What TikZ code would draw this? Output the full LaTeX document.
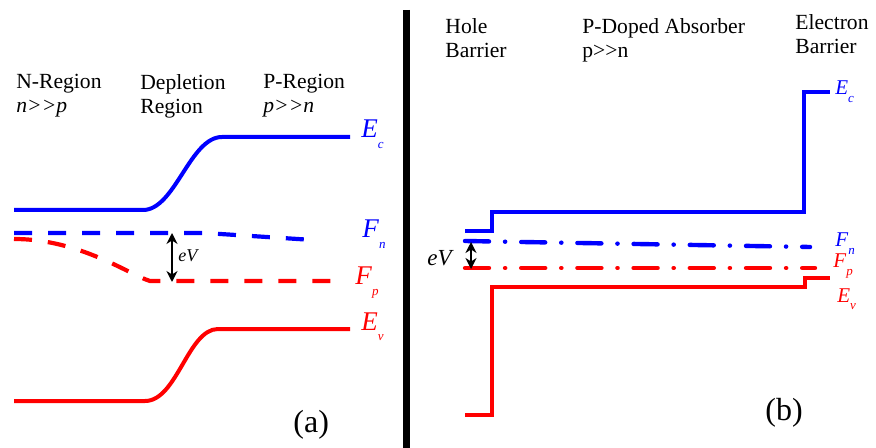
\documentclass[tikz,border=0pt]{standalone}
\usepackage{fontspec}
\setmainfont{Liberation Serif}
\usepackage{tikz}
\usepackage{graphicx}
\tikzset{>=stealth}
\usetikzlibrary{calc}
\usetikzlibrary{arrows.meta}
\newcommand{\band}[2]{\textit{#1}\raisebox{-0.38em}{\fontsize{6.5}{7}\selectfont\textit{#2}}}
\tikzset{
    lbl/.style={anchor=north west, inner sep=0, align=left, font=\rmfamily\fontsize{10.8}{12}\selectfont},
    lvlbig/.style={anchor=base west, inner sep=0, font=\rmfamily\fontsize{13.5}{15}\selectfont},
    lvlsmall/.style={anchor=base west, inner sep=0, font=\rmfamily\fontsize{10.5}{12}\selectfont},
    bandline/.style={line width=2pt},
    fermi/.style={line width=2.1pt, dash pattern=on 9pt off 8pt},
    quasi/.style={line width=2.2pt, line cap=round, dash pattern=on 12pt off 8pt on 0.1pt off 8pt},
    gap/.style={line width=1.4pt, {Stealth[length=5.5pt,width=5.5pt]}-{Stealth[length=5.5pt,width=5.5pt]}},
}

\begin{document}
\begin{tikzpicture}[x=0.5pt, y=-0.5pt]
    \useasboundingbox (0,0) rectangle (876,448);
    \draw [line width=3.5pt] (406,10) -- (406,448);
    % (a) p-n junction
    \begin{scope}
        \draw [bandline, blue] (14,210) -- (143,210) .. controls (175,210) and (190,137) .. (222,137) -- (350,137);
        \draw [bandline, red] (14,401) -- (145,401) .. controls (177,401) and (188,329) .. (218,329) -- (350,329);
        \draw [fermi, blue] (14,233) -- (205,233) -- (313,240);
        \draw [fermi, red] (14,239) .. controls (80,239) and (130,275) .. (150,281) -- (333,281);
        \coordinate (fnA) at (172,233);
        \coordinate (fpA) at (172,282);
        \draw [gap] (fnA) -- (fpA);
        \node [anchor=base west, inner sep=0, font=\rmfamily\fontsize{9}{10}\selectfont\itshape] (evA) at (178,262) {eV};
        \node [lbl] (nreg) at (16,74) {N-Region\\\textit{n\textgreater{}\textgreater{}p}};
        \node [lbl] (depl) at (140,74) {Depletion\\Region};
        \node [lbl] (preg) at (263,74) {P-Region\\\textit{p\textgreater{}\textgreater{}n}};
        \node [lvlbig, blue] (ecA) at (361,138) {\band{E}{c}};
        \node [lvlbig, blue] (fnlA) at (362,238) {\band{F}{n}};
        \node [lvlbig, red] (fplA) at (355,285) {\band{F}{p}};
        \node [lvlbig, red] (evlA) at (361,330) {\band{E}{v}};
        \node [anchor=base west, inner sep=0, font=\rmfamily\fontsize{16}{18}\selectfont] (capa) at (293,432) {(a)};
    \end{scope}
    % (b) barrier structure
    \begin{scope}
        \draw [bandline, blue] (465,231) -- (492,231) -- (492,212) -- (804,212) -- (804,92) -- (830,92);
        \draw [bandline, red] (465,415) -- (492,415) -- (492,287) -- (805,287) -- (805,278) -- (830,278);
        \draw [quasi, blue] (465,241) -- (810,247);
        \draw [quasi, red] (465,268) -- (815,268);
        \coordinate (fnB) at (471,242);
        \coordinate (fpB) at (471,269);
        \draw [gap] (fnB) -- (fpB);
        \node [anchor=base west, inner sep=0, font=\rmfamily\fontsize{11.5}{12}\selectfont\itshape] (evB) at (427,265) {eV};
        \node [lbl] (hole) at (445,18) {Hole\\Barrier};
        \node [lbl] (absb) at (582,18) {P-Doped Absorber\\p\textgreater{}\textgreater{}n};
        \node [lbl] (ebar) at (795,14) {Electron\\Barrier};
        \node [lvlsmall, blue] (ecB) at (835,95) {\band{E}{c}};
        \node [lvlsmall, blue] (fnlB) at (835,247) {\band{F}{n}};
        \node [lvlsmall, red] (fplB) at (833,268) {\band{F}{p}};
        \node [lvlsmall, red] (evlB) at (837,302) {\band{E}{v}};
        \node [anchor=base west, inner sep=0, font=\rmfamily\fontsize{16}{18}\selectfont] (capb) at (765,420) {(b)};
    \end{scope}
\end{tikzpicture}
\end{document}
